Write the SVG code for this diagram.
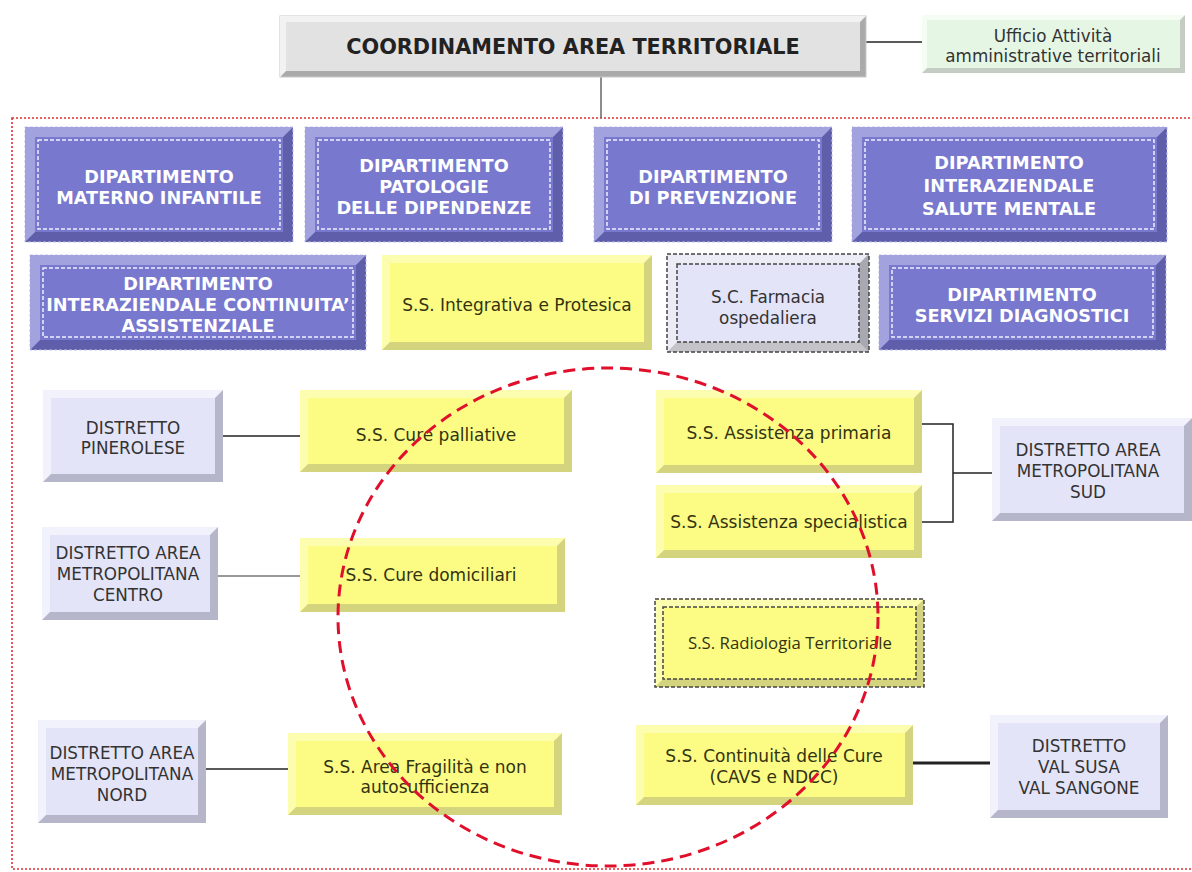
<svg xmlns="http://www.w3.org/2000/svg" width="1192" height="872" viewBox="0 0 1192 872">
<style>
text{font-family:"DejaVu Sans","Liberation Sans",sans-serif;text-anchor:middle}
.purple .o{fill:#5e5eaa;stroke:#c4c4ee;stroke-width:1;stroke-dasharray:3 2}
.purple .l{fill:#a2a2de}
.purple .f{fill:#7878cf}
.purple .d{fill:none;stroke:#eeeeff;stroke-width:1.5;stroke-dasharray:4 2}
.purple text{fill:#fff;font-weight:bold;font-size:17.7px}
.yellow .o{fill:#d4d47e}
.yellow .l{fill:#fdfdb0}
.yellow .f{fill:#fcfc84}
.yellow text{fill:#333310;font-size:17px}
.lav text,.green text{fill:#333;font-size:16.8px}
.lav .o{fill:#b6b6ca}
.lav .l{fill:#f2f2fd}
.lav .f{fill:#e4e4f8}
.grey .o{fill:#aaaaaa;stroke:#c8c8c8}
.grey .l{fill:#f2f2f2}
.grey .f{fill:#e2e2e2}
.grey text{fill:#222;font-weight:bold;font-size:20.8px}
.green .o{fill:#c4ccc4}
.green .l{fill:#f4fcf4}
.green .f{fill:#e6f6e4}
.dash{fill:none;stroke:#444;stroke-width:1.5;stroke-dasharray:4 2}
.conn line,.conn polyline{stroke:#222;stroke-width:1.5;fill:none}
</style>

<rect x="12" y="118" width="1200" height="751" fill="none" stroke="#e03030" stroke-width="1.6" stroke-dasharray="2 2"/>

<g class="conn" id="connectors">
<line x1="866" y1="42" x2="922" y2="42"/>
<line x1="601" y1="77" x2="601" y2="118" style="stroke:#666"/>
<line x1="223" y1="436" x2="300" y2="436"/>
<polyline points="922,424 953,424 953,522 922,522"/>
<line x1="953" y1="473" x2="992" y2="473"/>
<line x1="218" y1="576" x2="300" y2="576" style="stroke:#777"/>
<line x1="206" y1="769" x2="288" y2="769"/>
<line x1="913" y1="763" x2="990" y2="763" style="stroke-width:3"/>
</g>

<g id="coordinamento" class="grey">
<rect class="o" x="280" y="16" width="586" height="61"/>
<polygon class="l" points="280,16 866,16 860,22 286,22 286,71 280,77"/>
<rect class="f" x="286" y="22" width="574" height="49"/>
<text x="573" y="54">COORDINAMENTO AREA TERRITORIALE</text>
</g>

<g id="ufficio" class="green">
<rect class="o" x="922" y="15" width="263" height="58"/>
<polygon class="l" points="922,15 1185,15 1180,20 927,20 927,68 922,73"/>
<rect class="f" x="927" y="20" width="253" height="48"/>
<text x="1053" y="42">Ufficio Attività</text>
<text x="1053" y="62">amministrative territoriali</text>
</g>

<g id="dip-materno" class="purple">
<rect class="o" x="25" y="127" width="268" height="115"/>
<polygon class="l" points="25,127 293,127 283,137 35,137 35,232 25,242"/>
<rect class="f" x="35" y="137" width="248" height="95"/>
<rect class="d" x="38" y="140" width="242" height="89"/>
<text x="159" y="182.5">DIPARTIMENTO</text>
<text x="159" y="203.5">MATERNO INFANTILE</text>
</g>

<g id="dip-patologie" class="purple">
<rect class="o" x="305" y="127" width="258" height="115"/>
<polygon class="l" points="305,127 563,127 553,137 315,137 315,232 305,242"/>
<rect class="f" x="315" y="137" width="238" height="95"/>
<rect class="d" x="318" y="140" width="232" height="89"/>
<text x="434" y="172">DIPARTIMENTO</text>
<text x="434" y="193">PATOLOGIE</text>
<text x="434" y="214">DELLE DIPENDENZE</text>
</g>

<g id="dip-prevenzione" class="purple">
<rect class="o" x="594" y="127" width="238" height="115"/>
<polygon class="l" points="594,127 832,127 822,137 604,137 604,232 594,242"/>
<rect class="f" x="604" y="137" width="218" height="95"/>
<rect class="d" x="607" y="140" width="212" height="89"/>
<text x="713" y="182.5">DIPARTIMENTO</text>
<text x="713" y="203.5">DI PREVENZIONE</text>
</g>

<g id="dip-salute-mentale" class="purple">
<rect class="o" x="852" y="127" width="315" height="115"/>
<polygon class="l" points="852,127 1167,127 1157,137 862,137 862,232 852,242"/>
<rect class="f" x="862" y="137" width="295" height="95"/>
<rect class="d" x="865" y="140" width="289" height="89"/>
<text x="1009" y="169">DIPARTIMENTO</text>
<text x="1009" y="192">INTERAZIENDALE</text>
<text x="1009" y="215">SALUTE MENTALE</text>
</g>

<g id="dip-continuita" class="purple">
<rect class="o" x="30" y="255" width="336" height="95"/>
<polygon class="l" points="30,255 366,255 356,265 40,265 40,340 30,350"/>
<rect class="f" x="40" y="265" width="316" height="75"/>
<rect class="d" x="43" y="268" width="310" height="69"/>
<text x="198" y="290">DIPARTIMENTO</text>
<text x="198" y="311">INTERAZIENDALE CONTINUITA’</text>
<text x="198" y="332">ASSISTENZIALE</text>
</g>

<g id="ss-integrativa" class="yellow">
<rect class="o" x="382" y="255" width="270" height="95"/>
<polygon class="l" points="382,255 652,255 644,263 390,263 390,342 382,350"/>
<rect class="f" x="390" y="263" width="254" height="79"/>
<text x="517" y="311">S.S. Integrativa e Protesica</text>
</g>

<g id="sc-farmacia" class="lav">
<rect x="667" y="254" width="202" height="98" fill="#c4c4c8"/>
<polygon points="667,254 869,254 859,264 677,264 677,342 667,352" fill="#ececf6"/>
<polygon points="869,254 869,352 859,342 859,264" fill="#a8a8b0"/>
<rect class="f" x="677" y="264" width="182" height="78"/>
<rect class="dash" x="667" y="254" width="202" height="98"/>
<rect class="dash" x="677" y="264" width="182" height="78"/>
<text x="768" y="303">S.C. Farmacia</text>
<text x="768" y="324">ospedaliera</text>
</g>

<g id="dip-servizi-diagnostici" class="purple">
<rect class="o" x="879" y="255" width="287" height="95"/>
<polygon class="l" points="879,255 1166,255 1156,265 889,265 889,340 879,350"/>
<rect class="f" x="889" y="265" width="267" height="75"/>
<rect class="d" x="892" y="268" width="261" height="69"/>
<text x="1022" y="301">DIPARTIMENTO</text>
<text x="1022" y="322">SERVIZI DIAGNOSTICI</text>
</g>

<g id="distretto-pinerolese" class="lav">
<rect class="o" x="43" y="390" width="180" height="92"/>
<polygon class="l" points="43,390 223,390 215,398 51,398 51,474 43,482"/>
<rect class="f" x="51" y="398" width="164" height="76"/>
<text x="133" y="434">DISTRETTO</text>
<text x="133" y="454">PINEROLESE</text>
</g>

<g id="ss-cure-palliative" class="yellow">
<rect class="o" x="300" y="390" width="272" height="82"/>
<polygon class="l" points="300,390 572,390 564,398 308,398 308,464 300,472"/>
<rect class="f" x="308" y="398" width="256" height="66"/>
<text x="436" y="441">S.S. Cure palliative</text>
</g>

<g id="ss-assistenza-primaria" class="yellow">
<rect class="o" x="656" y="390" width="266" height="83"/>
<polygon class="l" points="656,390 922,390 914,398 664,398 664,465 656,473"/>
<rect class="f" x="664" y="398" width="250" height="67"/>
<text x="789" y="439">S.S. Assistenza primaria</text>
</g>

<g id="ss-assistenza-specialistica" class="yellow">
<rect class="o" x="656" y="485" width="266" height="73"/>
<polygon class="l" points="656,485 922,485 914,493 664,493 664,550 656,558"/>
<rect class="f" x="664" y="493" width="250" height="57"/>
<text x="789" y="528">S.S. Assistenza specialistica</text>
</g>

<g id="distretto-sud" class="lav">
<rect class="o" x="992" y="418" width="200" height="103"/>
<polygon class="l" points="992,418 1192,418 1184,426 1000,426 1000,513 992,521"/>
<rect class="f" x="1000" y="426" width="184" height="87"/>
<text x="1088" y="456">DISTRETTO AREA</text>
<text x="1088" y="477">METROPOLITANA</text>
<text x="1088" y="498">SUD</text>
</g>

<g id="distretto-centro" class="lav">
<rect class="o" x="42" y="527" width="176" height="93"/>
<polygon class="l" points="42,527 218,527 210,535 50,535 50,612 42,620"/>
<rect class="f" x="50" y="535" width="160" height="77"/>
<text x="128" y="559">DISTRETTO AREA</text>
<text x="128" y="580">METROPOLITANA</text>
<text x="128" y="601">CENTRO</text>
</g>

<g id="ss-cure-domiciliari" class="yellow">
<rect class="o" x="300" y="538" width="265" height="74"/>
<polygon class="l" points="300,538 565,538 557,546 308,546 308,604 300,612"/>
<rect class="f" x="308" y="546" width="249" height="58"/>
<text x="431" y="581">S.S. Cure domiciliari</text>
</g>

<g id="ss-radiologia" class="yellow">
<rect class="o" x="655" y="599" width="269" height="88"/>
<polygon class="l" points="655,599 924,599 916,607 663,607 663,679 655,687"/>
<rect class="f" x="663" y="607" width="253" height="72"/>
<rect class="dash" x="655" y="599" width="269" height="88"/>
<rect class="dash" x="663" y="607" width="253" height="72"/>
<text x="790" y="649" style="font-family:'Open Sans','DejaVu Sans',sans-serif;font-size:16.8px">S.S. Radiologia Territoriale</text>
</g>

<g id="distretto-nord" class="lav">
<rect class="o" x="38" y="720" width="168" height="103"/>
<polygon class="l" points="38,720 206,720 198,728 46,728 46,815 38,823"/>
<rect class="f" x="46" y="728" width="152" height="87"/>
<text x="122" y="759">DISTRETTO AREA</text>
<text x="122" y="780">METROPOLITANA</text>
<text x="122" y="801">NORD</text>
</g>

<g id="ss-area-fragilita" class="yellow">
<rect class="o" x="288" y="733" width="274" height="82"/>
<polygon class="l" points="288,733 562,733 554,741 296,741 296,807 288,815"/>
<rect class="f" x="296" y="741" width="258" height="66"/>
<text x="425" y="773">S.S. Area Fragilità e non</text>
<text x="425" y="793">autosufficienza</text>
</g>

<g id="ss-continuita-cure" class="yellow">
<rect class="o" x="636" y="725" width="277" height="80"/>
<polygon class="l" points="636,725 913,725 905,733 644,733 644,797 636,805"/>
<rect class="f" x="644" y="733" width="261" height="64"/>
<text x="774" y="762">S.S. Continuità delle Cure</text>
<text x="774" y="783">(CAVS e NDCC)</text>
</g>

<g id="distretto-val-susa" class="lav">
<rect class="o" x="990" y="715" width="178" height="103"/>
<polygon class="l" points="990,715 1168,715 1160,723 998,723 998,810 990,818"/>
<rect class="f" x="998" y="723" width="162" height="87"/>
<text x="1079" y="752">DISTRETTO</text>
<text x="1079" y="773">VAL SUSA</text>
<text x="1079" y="794">VAL SANGONE</text>
</g>

<ellipse cx="608" cy="617" rx="270" ry="249" fill="none" stroke="#e0102c" stroke-width="3" stroke-dasharray="12 7"/>
</svg>
